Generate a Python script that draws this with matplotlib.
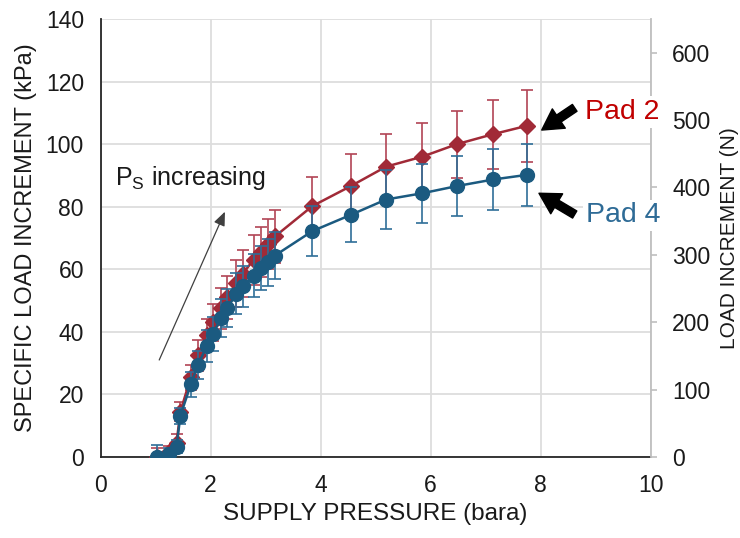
import matplotlib
matplotlib.use("Agg")
import matplotlib.pyplot as plt

plt.rcParams['font.family'] = ['Liberation Sans', 'DejaVu Sans']
plt.rcParams['mathtext.fontset'] = 'custom'
plt.rcParams['mathtext.rm'] = 'Liberation Sans'

# ---- data ----
pressure = [1.02, 1.25, 1.38, 1.45, 1.64, 1.77, 1.93, 2.05, 2.18, 2.30, 2.47, 2.58,
            2.78, 2.91, 3.05, 3.17, 3.85, 4.55, 5.19, 5.85, 6.48, 7.14, 7.76]
pad2_load = [0.0, 1.5, 4.5, 14.5, 25.5, 32.5, 39.0, 43.0, 47.5, 51.0, 55.5, 58.5,
             63.0, 65.5, 68.0, 70.5, 80.2, 86.6, 92.8, 96.0, 100.0, 103.2, 105.9]
pad2_err = [3.0, 2.0, 3.0, 3.0, 4.0, 5.0, 5.0, 6.0, 6.5, 7.0, 7.5, 7.5,
            8.0, 8.0, 8.0, 8.5, 9.3, 10.2, 10.5, 10.8, 10.7, 11.0, 11.5]
pad4_load = [0.0, 1.0, 3.3, 13.2, 23.2, 29.4, 35.5, 39.4, 44.4, 47.6, 52.2, 54.5,
             58.0, 60.5, 62.3, 64.4, 72.2, 77.4, 82.3, 84.3, 86.6, 88.7, 90.2]
pad4_err = [3.8, 2.0, 2.0, 2.5, 4.0, 4.5, 5.0, 5.5, 6.0, 6.0, 6.5, 6.5,
            7.0, 7.0, 7.5, 7.5, 8.0, 8.8, 9.3, 9.4, 9.6, 9.8, 10.0]

x_ticks = [0, 2, 4, 6, 8, 10]
y_ticks = [0, 20, 40, 60, 80, 100, 120, 140]
y2_ticks = [0, 100, 200, 300, 400, 500, 600]

red = '#A12A37'
red_err = '#B24455'
blue = '#1B5A80'
blue_err = '#2F6E98'

fig = plt.figure(figsize=(7.4, 5.38), dpi=100)
ax = fig.add_axes([0.136, 0.1506, 0.7432, 0.8141])

ax.errorbar(pressure, pad2_load, yerr=pad2_err, color=red, ecolor=red_err,
            elinewidth=1.2, capsize=4, capthick=1.2, lw=1.8, marker='D',
            markersize=8.5, zorder=3)
ax.errorbar(pressure, pad4_load, yerr=pad4_err, color=blue, ecolor=blue_err,
            elinewidth=1.2, capsize=4, capthick=1.2, lw=1.8, marker='o',
            markersize=10, zorder=4)

ax.set_xlim(0, 10)
ax.set_ylim(0, 140)
ax.set_xticks(x_ticks)
ax.set_yticks(y_ticks)
ax.grid(True, color='#DDDDDD', lw=1.3, zorder=0)
ax.set_axisbelow(True)
for s in ['top', 'right']:
    ax.spines[s].set_visible(False)
for s in ['left', 'bottom']:
    ax.spines[s].set_color('#262626')
    ax.spines[s].set_linewidth(1.3)
ax.tick_params(axis='both', length=0, labelsize=16.5, colors='#1a1a1a')
ax.tick_params(axis='y', pad=12)
ax.tick_params(axis='x', pad=12.5)
ax.set_xlabel('SUPPLY PRESSURE (bara)', fontsize=17.5, color='#1a1a1a')
ax.set_ylabel('SPECIFIC LOAD INCREMENT (kPa)', fontsize=17, color='#1a1a1a')
ax.xaxis.set_label_coords(0.5, -0.106)
ax.yaxis.set_label_coords(-0.116, 0.5)

ax2 = ax.twinx()
ax2.set_ylim(0, 650)
ax2.set_yticks(y2_ticks)
for s in ['top', 'left', 'bottom']:
    ax2.spines[s].set_visible(False)
ax2.spines['right'].set_color('#BFBFBF')
ax2.spines['right'].set_linewidth(1.3)
ax2.tick_params(axis='y', length=4.5, width=1.2, color='#BFBFBF', labelsize=16.5,
                labelcolor='#1a1a1a', pad=11)
ax2.set_ylabel('LOAD INCREMENT (N)', fontsize=15, color='#1a1a1a')
ax2.yaxis.set_label_coords(1.127, 0.5)

# P_S increasing annotation
ax.text(0.26, 86.9, r'P$_\mathregular{S}$ increasing', fontsize=18, color='#1a1a1a',
        ha='left', va='baseline')
ax.annotate('', xy=(2.26, 78.4), xytext=(1.065, 31.0),
            arrowprops=dict(arrowstyle='-|>,head_length=0.6,head_width=0.25',
                            color='#404040', lw=0.9, shrinkA=0, shrinkB=0,
                            mutation_scale=14))

# Pad labels with arrows (drawn on ax2 so they cover the right spine)
arrow_style = 'simple,head_length=0.55,head_width=0.62,tail_width=0.22'
ax2.annotate('', xy=(8.02, 104.5), xytext=(8.62, 111.6),
             xycoords=ax.transData, textcoords=ax.transData,
             arrowprops=dict(arrowstyle=arrow_style, color='black',
                             shrinkA=0, shrinkB=0, mutation_scale=27),
             annotation_clip=False)
ax2.annotate('', xy=(7.97, 84.3), xytext=(8.62, 77.5),
             xycoords=ax.transData, textcoords=ax.transData,
             arrowprops=dict(arrowstyle=arrow_style, color='black',
                             shrinkA=0, shrinkB=0, mutation_scale=27),
             annotation_clip=False)
ax2.text(8.81, 110.2, 'Pad 2', transform=ax.transData, fontsize=20.5, color='#C00000',
         ha='left', va='center', clip_on=False, zorder=5,
         bbox=dict(facecolor='white', edgecolor='none', pad=2))
ax2.text(8.82, 77.2, 'Pad 4', transform=ax.transData, fontsize=20.5, color='#2E6B96',
         ha='left', va='center', clip_on=False, zorder=5,
         bbox=dict(facecolor='white', edgecolor='none', pad=2))

fig.savefig('out.png', dpi=100)
